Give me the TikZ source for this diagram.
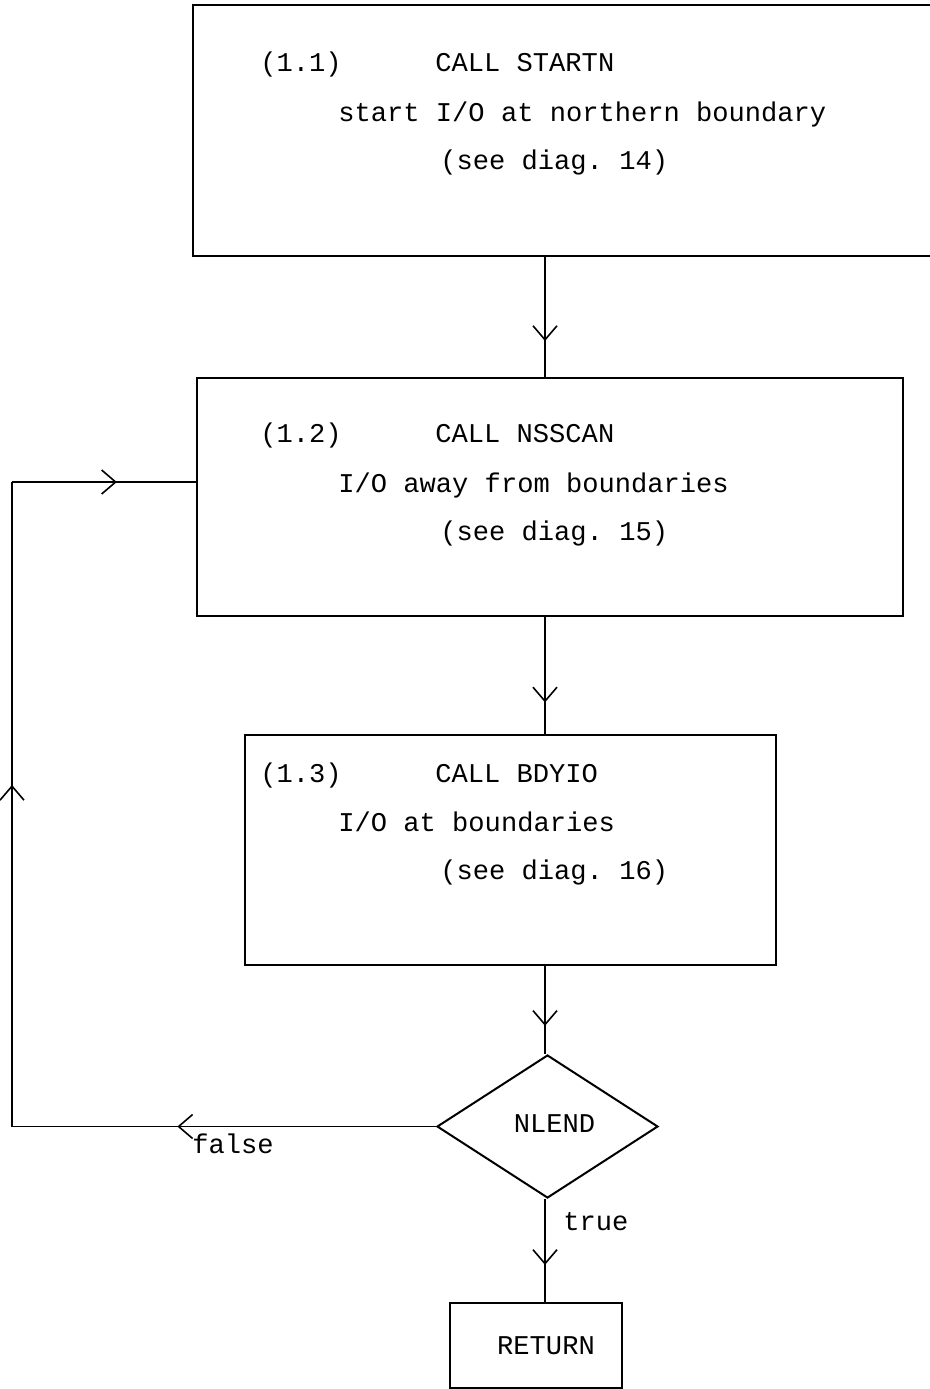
\documentclass[tikz,border=0pt]{standalone}
\usepackage{fontspec}
\setmonofont{Liberation Mono}
\usetikzlibrary{shapes.geometric,arrows.meta,decorations.markings}
\begin{document}
\begin{tikzpicture}[x=0.5pt,y=-0.5pt,
  every node/.style={font=\ttfamily\fontsize{13.55pt}{16pt}\selectfont},
  box/.style={draw, line width=1pt, inner sep=0pt},
  txt/.style={anchor=base west, inner sep=0pt},
  flow/.style={line width=0.8pt, decoration={markings, mark=at position #1 with {\arrow{Straight Barb[length=7pt,width=12pt,line width=0.8pt]}}}, postaction={decorate}}
]
\useasboundingbox (0,0) rectangle (930,1389);
\fill[white] (0,0) rectangle (930,1389);

% boxes
\node[box, minimum width=403.5pt, minimum height=125.5pt] (b1) at (596.5,130.5) {};
\node[box, minimum width=353pt, minimum height=119pt] (b2) at (550,497) {};
\node[box, minimum width=265.5pt, minimum height=115pt] (b3) at (510.5,850) {};
\node[box, shape=diamond, minimum width=110.5pt, minimum height=71.5pt] (d) at (547.5,1126.5) {\hspace*{7pt}\raisebox{3pt}{NLEND}};
\node[box, minimum width=86pt, minimum height=42.5pt] (ret) at (536,1345.5) {\hspace*{10pt}\raisebox{-2pt}{RETURN}};

% texts box 1
\node[txt] (t11) at (260,71) {(1.1)};
\node[txt] (t12) at (435,71) {CALL STARTN};
\node[txt] (t13) at (338,121) {start I/O at northern boundary};
\node[txt] (t14) at (440,169) {(see diag. 14)};
% texts box 2
\node[txt] (t21) at (260,442) {(1.2)};
\node[txt] (t22) at (435,442) {CALL NSSCAN};
\node[txt] (t23) at (338,492) {I/O away from boundaries};
\node[txt] (t24) at (440,540) {(see diag. 15)};
% texts box 3
\node[txt] (t31) at (260,782) {(1.3)};
\node[txt] (t32) at (435,782) {CALL BDYIO};
\node[txt] (t33) at (338,831) {I/O at boundaries};
\node[txt] (t34) at (440,879) {(see diag. 16)};
% labels
\node[txt] (ltrue) at (563,1230) {true};
\node[txt] (lfalse) at (192,1153) {false};

% connectors
\coordinate (axis) at (545,0);
\coordinate (loop) at (12,482);
\draw[flow=0.70] (b1.south -| axis) -- (b2.north -| axis);
\draw[flow=0.73] (b2.south -| axis) -- (b3.north -| axis);
\draw[flow=0.68] (b3.south -| axis) -- (d.north -| axis);
\draw[flow=0.64] (d.south -| axis) -- (ret.north -| axis);
\draw[flow=0.61] (d.west) -- (d.west -| loop);
\draw[flow=0.53] (d.west -| loop) -- (loop);
\draw[flow=0.57] (loop) -- (loop -| b2.west);
\end{tikzpicture}
\end{document}
